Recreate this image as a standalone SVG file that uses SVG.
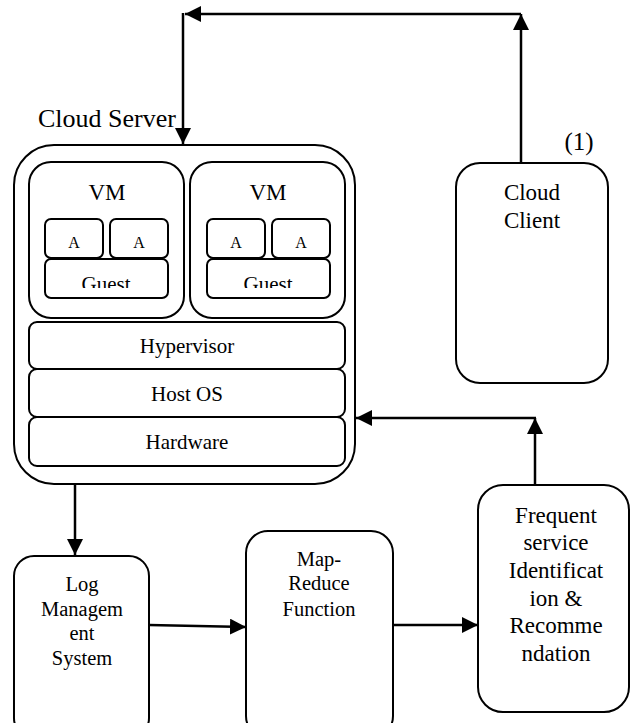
<svg xmlns="http://www.w3.org/2000/svg" width="632" height="723" viewBox="0 0 632 723">
  <style>
    .box { fill: #fff; stroke: #000; stroke-width: 2; }
    .wire { fill: none; stroke: #000; stroke-width: 2.5; marker-end: url(#head); }
    text { font-family: 'Liberation Serif', 'DejaVu Serif', serif; fill: #000; text-anchor: middle; }
  </style>
  <defs>
    <marker id="head" markerUnits="userSpaceOnUse" markerWidth="16" markerHeight="16" viewBox="0 0 15 15" refX="15" refY="7.5" orient="auto">
      <path d="M0,0 L15,7.5 L0,15 Z" fill="#000"/>
    </marker>
    <!-- guest labels are cut off at the lower edge of their text frame -->
    <clipPath id="guestClip">
      <rect x="0" y="260" width="360" height="28"/>
    </clipPath>
  </defs>

  <rect width="632" height="723" fill="#fff"/>

  <g id="cloud-server">
    <text x="107" y="127" font-size="26" font-family="Liberation Serif, serif">Cloud Server</text>
    <rect class="box" x="14" y="145" width="341" height="339" rx="40" ry="40"/>
  </g>

  <g id="vm-left">
    <rect class="box" x="29" y="162" width="155" height="156" rx="22" ry="22"/>
    <text x="107" y="200" font-size="23">VM</text>
    <rect class="box" x="45" y="219" width="58" height="39" rx="6" ry="6"/>
    <text x="74" y="248" font-size="16">A</text>
    <rect class="box" x="110" y="219" width="58" height="39" rx="6" ry="6"/>
    <text x="139" y="248" font-size="16">A</text>
    <rect class="box" x="45" y="259" width="123" height="39" rx="6" ry="6"/>
    <text x="106" y="291" font-size="21" clip-path="url(#guestClip)">Guest</text>
  </g>

  <g id="vm-right">
    <rect class="box" x="190" y="162" width="155" height="156" rx="22" ry="22"/>
    <text x="268" y="200" font-size="23">VM</text>
    <rect class="box" x="207" y="219" width="58" height="39" rx="6" ry="6"/>
    <text x="236" y="248" font-size="16">A</text>
    <rect class="box" x="272" y="219" width="58" height="39" rx="6" ry="6"/>
    <text x="301" y="248" font-size="16">A</text>
    <rect class="box" x="207" y="259" width="123" height="39" rx="6" ry="6"/>
    <text x="268" y="291" font-size="21" clip-path="url(#guestClip)">Guest</text>
  </g>

  <g id="hypervisor">
    <rect class="box" x="29" y="322" width="316" height="47" rx="8" ry="8"/>
    <text x="187" y="353" font-size="21">Hypervisor</text>
  </g>

  <g id="host-os">
    <rect class="box" x="29" y="369" width="316" height="48" rx="8" ry="8"/>
    <text x="187" y="401" font-size="21">Host OS</text>
  </g>

  <g id="hardware">
    <rect class="box" x="29" y="417" width="316" height="49" rx="8" ry="8"/>
    <text x="187" y="449" font-size="21">Hardware</text>
  </g>

  <g id="cloud-client">
    <text x="579" y="150" font-size="25">(1)</text>
    <rect class="box" x="456" y="163" width="152" height="220" rx="24" ry="24"/>
    <text x="532" y="200" font-size="23">Cloud</text>
    <text x="532" y="228" font-size="23">Client</text>
  </g>

  <g id="log-management">
    <rect class="box" x="14" y="556" width="135" height="182" rx="20" ry="20"/>
    <text x="82" y="591" font-size="20.5">Log</text>
    <text x="82" y="616" font-size="20.5">Managem</text>
    <text x="82" y="640" font-size="20.5">ent</text>
    <text x="82" y="665" font-size="20.5">System</text>
  </g>

  <g id="map-reduce">
    <rect class="box" x="246" y="531" width="147" height="207" rx="22" ry="22"/>
    <text x="319" y="566" font-size="20.5">Map-</text>
    <text x="319" y="590" font-size="20.5">Reduce</text>
    <text x="319" y="616" font-size="20.5">Function</text>
  </g>

  <g id="frequent-service">
    <rect class="box" x="478" y="485" width="151" height="227" rx="25" ry="25"/>
    <text x="556" y="523" font-size="23">Frequent</text>
    <text x="556" y="550" font-size="23">service</text>
    <text x="556" y="578" font-size="23">Identificat</text>
    <text x="556" y="606" font-size="23">ion &amp;</text>
    <text x="556" y="633" font-size="23">Recomme</text>
    <text x="556" y="661" font-size="23">ndation</text>
  </g>

  <g id="connectors">
    <!-- client request path over the top into the server -->
    <line class="wire" x1="521" y1="163" x2="521" y2="14"/>
    <line class="wire" x1="521" y1="14" x2="185" y2="14"/>
    <line class="wire" x1="183" y1="13" x2="183" y2="144"/>
    <!-- server logs down to the pipeline -->
    <line class="wire" x1="75" y1="484" x2="75" y2="555"/>
    <line class="wire" x1="149" y1="625" x2="246" y2="627"/>
    <line class="wire" x1="393" y1="625" x2="478" y2="625"/>
    <!-- recommendations back to the server -->
    <line class="wire" x1="535" y1="485" x2="535" y2="418"/>
    <line class="wire" x1="536" y1="418" x2="356" y2="418"/>
  </g>
</svg>
